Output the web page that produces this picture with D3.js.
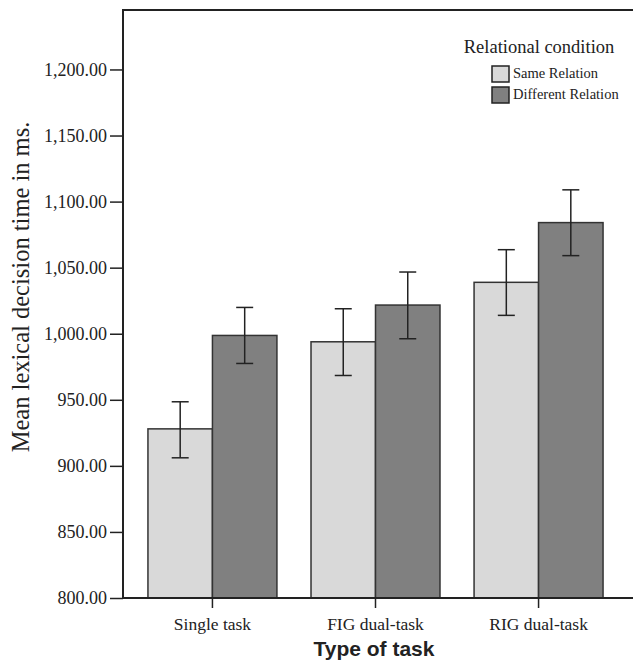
<!DOCTYPE html>
<html>
<head>
<meta charset="utf-8">
<script src="https://cdn.jsdelivr.net/npm/d3@7/dist/d3.min.js"></script>
<style>
  body { margin: 0; background: #fff; }
  svg { display: block; }
</style>
</head>
<body>
<div id="chart"></div>
<script>
const tasks = ["Single task", "FIG dual-task", "RIG dual-task"]
const conditions = ["Same Relation", "Different Relation"]
const sameMeans = [928.0, 993.9, 1038.9]
const diffMeans = [998.7, 1021.7, 1084.1]
const sameLow = [906.1, 968.4, 1013.9]
const sameHigh = [948.5, 1018.9, 1063.6]
const diffLow = [977.5, 996.2, 1059.1]
const diffHigh = [1019.9, 1046.7, 1108.9]
const yTicks = [800, 850, 900, 950, 1000, 1050, 1100, 1150, 1200]

const COLORS = { "Same Relation": "#d9d9d9", "Different Relation": "#808080" }
const SERIF = "'Liberation Serif', 'Times New Roman', serif"

const width = 633, height = 663
const margin = { left: 123, top: 10, right: 5, bottom: 65 }

const svg = d3.select("#chart").append("svg")
  .attr("width", width)
  .attr("height", height)

const x0 = d3.scaleBand()
  .domain(tasks)
  .range([margin.left, width - margin.right])
  .paddingInner(0.209)
  .paddingOuter(0.153)

const x1 = d3.scaleBand()
  .domain(conditions)
  .range([0, x0.bandwidth()])

const y = d3.scaleLinear()
  .domain([800, 1245])
  .range([height - margin.bottom, margin.top])

const rows = tasks.map((t, i) => ({
  task: t,
  values: [
    { cond: conditions[0], mean: sameMeans[i], lo: sameLow[i], hi: sameHigh[i] },
    { cond: conditions[1], mean: diffMeans[i], lo: diffLow[i], hi: diffHigh[i] },
  ]
}))

// Bars
const group = svg.append("g").selectAll("g")
  .data(rows)
  .join("g")
  .attr("transform", d => `translate(${x0(d.task)},0)`)

group.selectAll("rect")
  .data(d => d.values)
  .join("rect")
  .attr("x", d => x1(d.cond))
  .attr("y", d => y(d.mean))
  .attr("width", x1.bandwidth())
  .attr("height", d => y(800) - y(d.mean))
  .attr("fill", d => COLORS[d.cond])
  .attr("stroke", "#333")
  .attr("stroke-width", 1.5)

// Error bars
const err = group.selectAll("g.err")
  .data(d => d.values)
  .join("g")
  .attr("class", "err")
  .attr("stroke", "#222")
  .attr("stroke-width", 1.5)

const cx = d => x1(d.cond) + x1.bandwidth() / 2
err.append("line")
  .attr("x1", cx).attr("x2", cx)
  .attr("y1", d => y(d.lo)).attr("y2", d => y(d.hi))
err.append("line")
  .attr("x1", d => cx(d) - 8.5).attr("x2", d => cx(d) + 8.5)
  .attr("y1", d => y(d.hi)).attr("y2", d => y(d.hi))
err.append("line")
  .attr("x1", d => cx(d) - 8.5).attr("x2", d => cx(d) + 8.5)
  .attr("y1", d => y(d.lo)).attr("y2", d => y(d.lo))

// Y axis
const yAxis = svg.append("g")
  .attr("transform", `translate(${margin.left},0)`)
  .call(d3.axisLeft(y).tickValues(yTicks).tickSize(13).tickPadding(3)
    .tickFormat(d3.format(",.2f")))
yAxis.select(".domain").remove()
yAxis.selectAll(".tick line").attr("stroke", "#222").attr("stroke-width", 1.5)
yAxis.selectAll(".tick text")
  .attr("font-family", SERIF)
  .attr("font-size", 18)
  .attr("fill", "#222")

// X axis
const xAxis = svg.append("g")
  .attr("transform", `translate(0,${height - margin.bottom})`)
  .call(d3.axisBottom(x0).tickSize(10).tickPadding(10).tickSizeOuter(0))
xAxis.select(".domain").remove()
xAxis.selectAll(".tick line").attr("stroke", "#222").attr("stroke-width", 1.5)
xAxis.selectAll(".tick text")
  .attr("font-family", SERIF)
  .attr("font-size", 17.5)
  .attr("fill", "#222")

// Frame: left, top, bottom
const frame = svg.append("g").attr("stroke", "#222").attr("stroke-width", 2).attr("fill", "none")
frame.append("path")
  .attr("d", `M${width},${margin.top}H${margin.left}V${height - margin.bottom}H${width}`)

// Axis titles
svg.append("text")
  .attr("transform", `translate(29,${(margin.top + height - margin.bottom) / 2 - 17}) rotate(-90)`)
  .attr("text-anchor", "middle")
  .attr("font-family", SERIF)
  .attr("font-size", 24.5)
  .attr("fill", "#222")
  .text("Mean lexical decision time in ms.")

svg.append("text")
  .attr("x", 374)
  .attr("y", 656)
  .attr("text-anchor", "middle")
  .attr("font-family", "'Liberation Sans', Arial, sans-serif")
  .attr("font-weight", "bold")
  .attr("font-size", 21)
  .attr("fill", "#222")
  .text("Type of task")

// Legend
const legend = svg.append("g").attr("transform", "translate(492,0)")
legend.append("text")
  .attr("x", 47).attr("y", 53)
  .attr("text-anchor", "middle")
  .attr("font-family", SERIF)
  .attr("font-size", 18.5)
  .attr("fill", "#222")
  .text("Relational condition")

const item = legend.selectAll("g.item")
  .data(conditions)
  .join("g")
  .attr("class", "item")
  .attr("transform", (d, i) => `translate(0,${66 + i * 21})`)
item.append("rect")
  .attr("width", 17).attr("height", 16)
  .attr("fill", d => COLORS[d])
  .attr("stroke", "#222")
  .attr("stroke-width", 1.5)
item.append("text")
  .attr("x", 21).attr("y", 12)
  .attr("font-family", SERIF)
  .attr("font-size", 14.5)
  .attr("fill", "#222")
  .text(d => d)
</script>
</body>
</html>
